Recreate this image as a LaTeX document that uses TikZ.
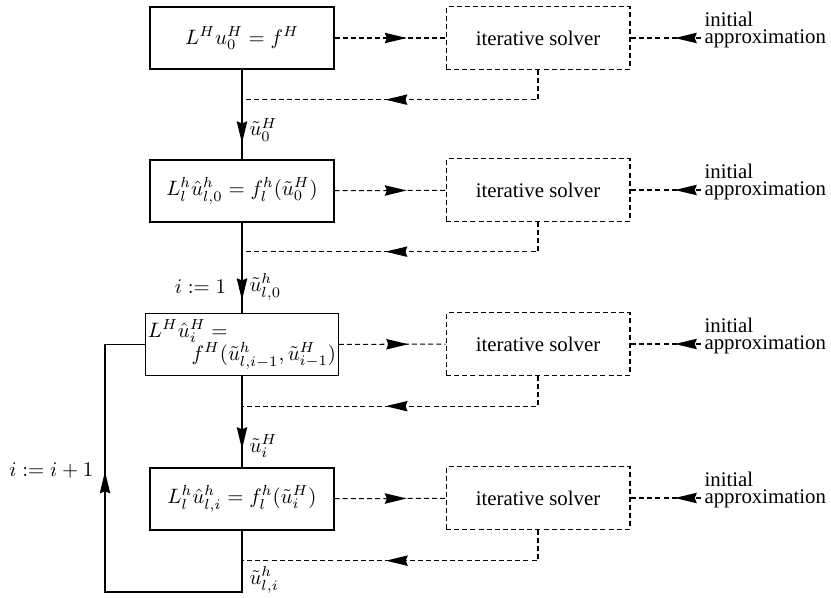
\documentclass[tikz,border=0pt]{standalone}
\usepackage{fontspec}
\setmainfont{Liberation Serif}
\usepackage{amsmath}
\usetikzlibrary{arrows.meta,calc,decorations.markings}

\tikzset{
  flow/.style={line width=0.6pt},
  dotline/.style={line width=0.5pt, dash pattern=on 2.4pt off 1.5pt},
  eqbox/.style={draw, flow, minimum width=88.3pt, minimum height=29.8pt, inner sep=1pt},
  solverbox/.style={draw, dotline, minimum width=88.3pt, minimum height=29.8pt},
  initnote/.style={anchor=west, align=left, inner sep=1.5pt, font=\fontsize{10}{8}\selectfont},
  midarrow/.style={postaction={decorate}, decoration={markings,
      mark=at position #1 with {\pgfsetdash{}{0pt}\arrow{Stealth[length=10.5pt,width=5pt,inset=1pt]}}}}
}

\begin{document}
\begin{tikzpicture}[x=0.48pt, y=-0.48pt]
    \useasboundingbox (0,0) rectangle (831,597);

    % Equation blocks
    \node[eqbox] (coarse0) at (242,38) {$L^H u_0^H = f^H$};
    \node[eqbox] (fine0) at (242,191) {$L_l^h \hat{u}_{l,0}^h = f_l^h(\tilde{u}_0^H)$};
    \node[eqbox, align=left] (coarse) at (242,344.5) {$L^H \hat{u}_i^H =$\\[-1pt]\hspace*{21pt}$f^H(\tilde{u}_{l,i-1}^h, \tilde{u}_{i-1}^H)$};
    \node[eqbox] (fine) at (242,499) {$L_l^h \hat{u}_{l,i}^h = f_l^h(\tilde{u}_i^H)$};

    % Solvers
    \node[solverbox] (solv1) at (538,38) {iterative solver};
    \node[solverbox] (solv2) at (538,190) {iterative solver};
    \node[solverbox] (solv3) at (538,344) {iterative solver};
    \node[solverbox] (solv4) at (538,498) {iterative solver};

    % Initial approximations
    \node[initnote] (init1) at (701,30) {initial\\approximation};
    \node[initnote] (init2) at (701,182) {initial\\approximation};
    \node[initnote] (init3) at (701,336) {initial\\approximation};
    \node[initnote] (init4) at (701,490) {initial\\approximation};

    % Main flow
    \draw[flow, midarrow=0.82] (coarse0) -- node[right, pos=0.67] (lab1) {$\tilde{u}_0^H$} (fine0);
    \draw[flow, midarrow=0.86] (fine0) -- node[right, pos=0.71] (lab2) {$\tilde{u}_{l,0}^h$}
        node[left, pos=0.71, xshift=-4pt] (start) {$i := 1$} (coarse);
    \draw[flow, midarrow=0.8] (coarse) -- node[right, pos=0.77] (lab3) {$\tilde{u}_i^H$} (fine);

    % Loop back
    \coordinate (corner) at (105,592);
    \draw[flow, midarrow=0.656] (fine.south) -- node[right, pos=0.8] (lab4) {$\tilde{u}_{l,i}^h$} (fine.south |- corner)
        -- (corner) -- node[left, pos=0.49, xshift=-2pt] (next) {$i := i+1$} (corner |- coarse.west) -- (coarse.west);

    % Solver connections
    \draw[dotline, midarrow=0.65] (coarse0) -- (solv1);
    \draw[dotline, midarrow=0.65] (fine0) -- (solv2);
    \draw[dotline, midarrow=0.65] (coarse) -- (solv3);
    \draw[dotline, midarrow=0.65] (fine) -- (solv4);

    \draw[dotline, midarrow=0.56] (solv1.south) |- ($(coarse0.south)+(0,30)$);
    \draw[dotline, midarrow=0.56] (solv2.south) |- ($(fine0.south)+(0,29)$);
    \draw[dotline, midarrow=0.56] (solv3.south) |- ($(coarse.south)+(0,30)$);
    \draw[dotline, midarrow=0.56] (solv4.south) |- ($(fine.south)+(0,30)$);

    \draw[dotline, midarrow=0.37] (init1.west |- solv1) -- (solv1);
    \draw[dotline, midarrow=0.37] (init2.west |- solv2) -- (solv2);
    \draw[dotline, midarrow=0.37] (init3.west |- solv3) -- (solv3);
    \draw[dotline, midarrow=0.37] (init4.west |- solv4) -- (solv4);
\end{tikzpicture}
\end{document}
